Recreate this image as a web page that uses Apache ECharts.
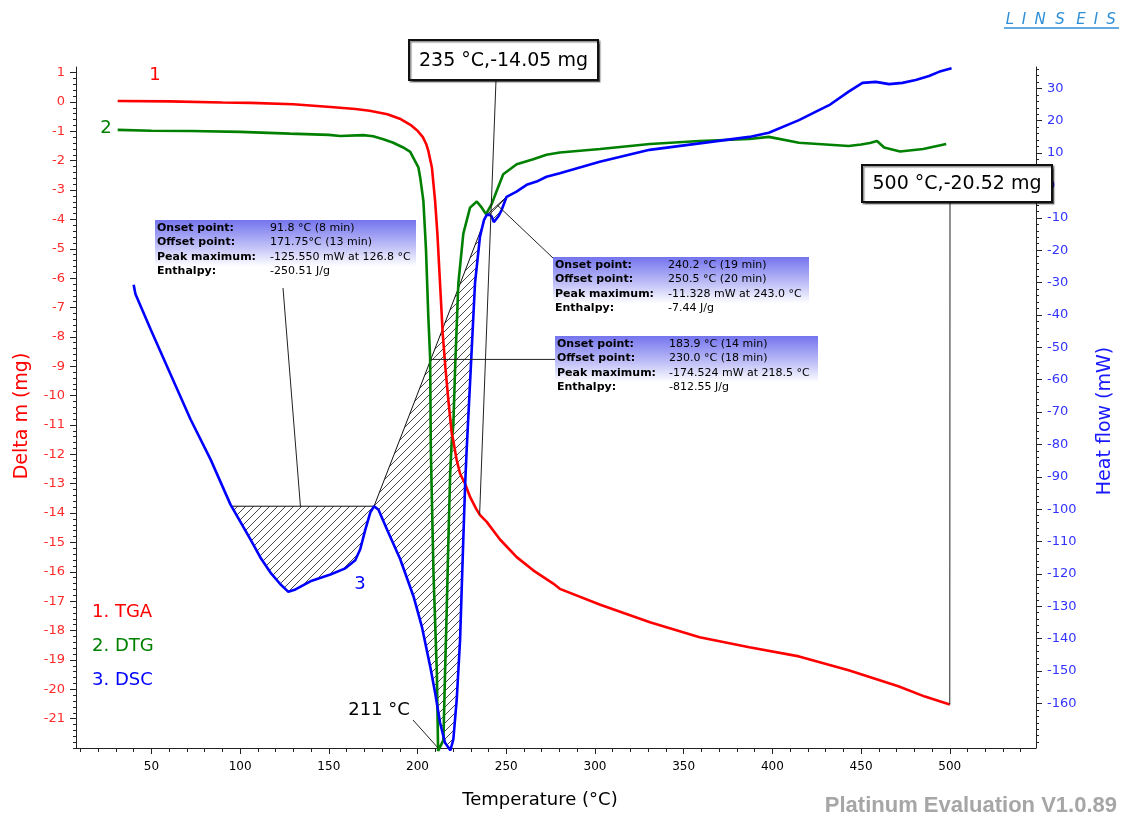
<!DOCTYPE html>
<html>
<head>
<meta charset="utf-8">
<title>TGA / DTG / DSC</title>
<script src="https://cdn.jsdelivr.net/npm/echarts@6/dist/echarts.min.js"></script>
<style>
  html, body { margin: 0; padding: 0; background: #ffffff; }
  #chart { width: 1121px; height: 816px; }
</style>
</head>
<body>
<div id="chart"></div>
<script>
// ---- axis tick labels ----
const tempTicks = [50, 100, 150, 200, 250, 300, 350, 400, 450, 500];
const massTicks = [1, 0, -1, -2, -3, -4, -5, -6, -7, -8, -9, -10, -11, -12, -13, -14, -15, -16, -17, -18, -19, -20, -21];
const heatTicks = [30, 20, 10, 0, -10, -20, -30, -40, -50, -60, -70, -80, -90, -100, -110, -120, -130, -140, -150, -160];

// ---- TGA: mass change (mg) vs temperature (°C) ----
const tgaTemp = [31, 60, 90, 106, 130, 151, 165, 173, 183, 190, 196, 200, 203, 205, 206.1, 208.1, 209.9, 211.2, 212.7, 214.2, 215.7, 217.4, 219.3, 220.2, 222.1, 224, 226.8, 229.6, 233, 235, 239, 246.5, 255.9, 265.2, 276.5, 280.2, 303, 331, 359, 387, 415, 443, 471, 486, 500];
const tgaMass = [0.03, 0.02, -0.02, -0.03, -0.08, -0.17, -0.24, -0.3, -0.42, -0.57, -0.78, -0.98, -1.2, -1.45, -1.67, -2.23, -3.37, -4.49, -6.19, -7.89, -9.04, -10.17, -11.29, -11.55, -12.2, -12.66, -13.0, -13.45, -13.85, -14.05, -14.3, -14.9, -15.5, -15.95, -16.4, -16.58, -17.12, -17.72, -18.23, -18.57, -18.88, -19.35, -19.9, -20.25, -20.52];

// ---- DTG (drawn against the mass axis) ----
const dtgTemp = [31, 50, 72, 100, 128, 150, 156.5, 169.4, 175, 180.7, 186, 191.9, 195.9, 197.5, 200.5, 201.5, 203.3, 204.3, 204.8, 206.1, 207.1, 207.5, 209, 210.9, 211.6, 212.6, 214.6, 215.5, 216.5, 217.4, 218.4, 219.3, 220.2, 221.2, 223, 225.8, 229.6, 233.4, 236.2, 238.6, 241.8, 244.6, 248.3, 255.9, 265.2, 272.7, 280.2, 303, 331, 359, 387, 398, 415, 443, 450, 455, 459, 463, 472, 485, 498];
const dtgValue = [-0.95, -0.98, -0.99, -1.02, -1.08, -1.12, -1.16, -1.13, -1.17, -1.27, -1.38, -1.55, -1.7, -1.89, -2.23, -2.57, -3.37, -4.49, -5.07, -7.34, -8.7, -11.87, -16.05, -19.45, -22.1, -22.1, -21.73, -19.47, -17.2, -14.93, -12.66, -11.53, -11.0, -9.04, -6.19, -4.49, -3.6, -3.39, -3.6, -3.82, -3.48, -3.03, -2.46, -2.12, -1.95, -1.8, -1.72, -1.6, -1.43, -1.33, -1.26, -1.19, -1.39, -1.5, -1.45, -1.4, -1.33, -1.55, -1.69, -1.6, -1.43];

// ---- DSC: heat flow (mW) vs temperature (°C) ----
const dscTemp = [40, 41, 49.6, 60.9, 72.1, 83.4, 94.6, 105.9, 111.5, 117.1, 122.7, 127.2, 131.2, 139.6, 150.9, 159.3, 164.9, 167.7, 170.5, 173.4, 175.5, 178, 182.8, 190.2, 197.7, 202.4, 207.1, 209.9, 212.7, 215.5, 218.5, 220.2, 222.1, 224, 225.8, 226.8, 227.7, 229.6, 232.4, 235.2, 237.5, 239, 240.5, 241.8, 243, 244, 245.5, 247.4, 250.2, 255.8, 261.5, 267.1, 272.7, 280.2, 302.7, 330.8, 359, 387, 398, 415, 426, 432, 443, 450.8, 458.3, 465.8, 473.3, 480.8, 488.3, 493.9, 501];
const dscHeat = [-30.7, -33.5, -44.5, -58.5, -72.3, -84.7, -98.6, -109.4, -115.0, -119.6, -123.2, -125.55, -124.8, -122.3, -120.2, -118.3, -115.8, -112.4, -106.5, -101.0, -99.1, -100.2, -106.3, -115.4, -126.9, -136.2, -148.5, -156.7, -166, -172.2, -174.52, -171.1, -158.8, -140.2, -109.4, -93, -81.6, -61, -30.2, -15.8, -10.6, -9.1, -9.0, -9.6, -11.33, -10.8, -9.6, -7.6, -3.5, -1.9, 0.2, 1.2, 2.7, 3.8, 7.3, 11, 13, 15, 16.3, 20.2, 23.2, 24.8, 29, 31.7, 32, 31.3, 31.7, 32.6, 33.8, 35.1, 36.2];

// ---- evaluated DSC peaks: temperature limits and baseline end values ----
const peakStart = [95, 175.5, 239];
const peakEnd = [175.5, 239, 250.2];
const baseStart = [-99.1, -99.1, -9.1];
const baseEnd = [-99.1, -9.1, -3.5];
const onsetText = ['91.8 °C (8 min)', '240.2 °C (19 min)', '183.9 °C (14 min)'];
const offsetText = ['171.75°C (13 min)', '250.5 °C (20 min)', '230.0 °C (18 min)'];
const peakText = ['-125.550 mW at 126.8 °C', '-11.328 mW at 243.0 °C', '-174.524 mW at 218.5 °C'];
const enthalpyText = ['-250.51 J/g', '-7.44 J/g', '-812.55 J/g'];

const X_MIN = 7.5, X_MAX = 548.6;
const M_MIN = -22, M_MAX = 1.19;
const H_MIN = -173.8, H_MAX = 36.6;

const RED = '#ff0000', GREEN = '#008000', BLUE = '#0000ff';
const FONT = '"DejaVu Sans", Verdana, sans-serif';

function zip(a, b) { return a.map((v, i) => [v, b[i]]); }
function steps(lo, hi, step) {
  const out = [];
  for (let v = lo; v <= hi + 1e-9; v += step) out.push(Math.round(v * 1000) / 1000);
  return out;
}

// diagonal hatch tile
const hatch = document.createElement('canvas');
hatch.width = 8; hatch.height = 8;
(function () {
  const c = hatch.getContext('2d');
  c.strokeStyle = '#333333';
  c.lineWidth = 0.9;
  c.beginPath();
  c.moveTo(-1, 9); c.lineTo(9, -1);
  c.moveTo(-1, 1); c.lineTo(1, -1);
  c.moveTo(7, 9); c.lineTo(9, 7);
  c.stroke();
})();

const chart = echarts.init(document.getElementById('chart'), null, { renderer: 'canvas' });

const axisLineStyle = { color: '#222', width: 1 };

function renderPeak(params, api) {
  const k = api.value(2);
  const t0 = peakStart[k], t1 = peakEnd[k];
  const pts = [api.coord([t0, baseStart[k]])];
  for (let i = 0; i < dscTemp.length; i++) {
    if (dscTemp[i] > t0 && dscTemp[i] < t1) pts.push(api.coord([dscTemp[i], dscHeat[i]]));
  }
  const last = api.coord([t1, baseEnd[k]]);
  pts.push(last);
  return {
    type: 'group',
    children: [
      { type: 'polygon', shape: { points: pts }, style: { fill: { image: hatch, repeat: 'repeat' }, stroke: null } },
      { type: 'line', shape: { x1: pts[0][0], y1: pts[0][1], x2: last[0], y2: last[1] }, style: { stroke: '#111', lineWidth: 1 } }
    ]
  };
}

const option = {
  animation: false,
  backgroundColor: '#ffffff',
  grid: { left: 76, right: 85, top: 67, bottom: 68, containLabel: false },
  xAxis: [
    {
      type: 'value', min: X_MIN, max: X_MAX, position: 'bottom',
      axisLine: { show: true, onZero: false, lineStyle: axisLineStyle },
      axisTick: { show: true, customValues: tempTicks, length: 6, lineStyle: axisLineStyle },
      axisLabel: { customValues: tempTicks, fontFamily: FONT, fontSize: 12, color: '#000', margin: 13 },
      splitLine: { show: false }
    },
    {
      type: 'value', min: X_MIN, max: X_MAX, position: 'bottom',
      axisLine: { show: false, onZero: false },
      axisTick: { show: true, customValues: steps(10, 540, 10), length: 4, lineStyle: axisLineStyle },
      axisLabel: { show: false },
      splitLine: { show: false }
    }
  ],
  yAxis: [
    {
      type: 'value', min: M_MIN, max: M_MAX, position: 'left',
      axisLine: { show: true, onZero: false, lineStyle: axisLineStyle },
      axisTick: { show: true, customValues: massTicks, length: 6, lineStyle: axisLineStyle },
      axisLabel: { customValues: massTicks, fontFamily: FONT, fontSize: 13, color: '#ff2a2a', margin: 11 },
      splitLine: { show: false }
    },
    {
      type: 'value', min: H_MIN, max: H_MAX, position: 'right',
      axisLine: { show: true, onZero: false, lineStyle: axisLineStyle },
      axisTick: { show: true, customValues: heatTicks, length: 6, lineStyle: axisLineStyle },
      axisLabel: { customValues: heatTicks, fontFamily: FONT, fontSize: 13, color: '#3333ff', margin: 11 },
      splitLine: { show: false }
    },
    {
      type: 'value', min: M_MIN, max: M_MAX, position: 'left',
      axisLine: { show: false, onZero: false },
      axisTick: { show: true, customValues: steps(-22, 1.19, 0.2), length: 3, lineStyle: axisLineStyle },
      axisLabel: { show: false }, splitLine: { show: false }
    },
    {
      type: 'value', min: H_MIN, max: H_MAX, position: 'right',
      axisLine: { show: false, onZero: false },
      axisTick: { show: true, customValues: steps(-172, 36, 2), length: 3, lineStyle: axisLineStyle },
      axisLabel: { show: false }, splitLine: { show: false }
    }
  ],
  series: [
    {
      name: 'peaks', type: 'custom', xAxisIndex: 0, yAxisIndex: 1, z: 1,
      renderItem: renderPeak, silent: true,
      data: [[100, -100, 0], [200, -100, 1], [245, -5, 2]]
    },
    {
      name: 'DTG', type: 'line', xAxisIndex: 0, yAxisIndex: 0, z: 3,
      data: zip(dtgTemp, dtgValue), showSymbol: false, clip: false,
      lineStyle: { color: GREEN, width: 2.6 }
    },
    {
      name: 'TGA', type: 'line', xAxisIndex: 0, yAxisIndex: 0, z: 4,
      data: zip(tgaTemp, tgaMass), showSymbol: false,
      lineStyle: { color: RED, width: 2.6 }
    },
    {
      name: 'DSC', type: 'line', xAxisIndex: 0, yAxisIndex: 1, z: 5,
      data: zip(dscTemp, dscHeat), showSymbol: false, clip: false,
      lineStyle: { color: BLUE, width: 2.6 }
    }
  ]
};

chart.setOption(option);

// ---- annotations: boxes, leaders and labels ----
const massPx = (t, v) => chart.convertToPixel({ xAxisIndex: 0, yAxisIndex: 0 }, [t, v]);
const heatPx = (t, v) => chart.convertToPixel({ xAxisIndex: 0, yAxisIndex: 1 }, [t, v]);

function lerpBase(k, t) {
  return baseStart[k] + (baseEnd[k] - baseStart[k]) * (t - peakStart[k]) / (peakEnd[k] - peakStart[k]);
}

const boxes = [
  { x: 155, y: 220, w: 261, h: 62 },
  { x: 553, y: 257, w: 256, h: 62 },
  { x: 555, y: 336, w: 263, h: 62 }
];
const valueCol = [270, 668, 669];
const leaderTo = [heatPx(134, lerpBase(0, 134)), heatPx(245, lerpBase(2, 245)), heatPx(207.5, lerpBase(1, 207.5))];
const leaderFrom = [[283, 288], [553, 258], [555, leaderTo[2][1]]];

const gfx = [];
function line(a, b, w) {
  gfx.push({ type: 'line', z: 20, silent: true, shape: { x1: a[0], y1: a[1], x2: b[0], y2: b[1] }, style: { stroke: '#222', lineWidth: w || 1 } });
}
function text(str, x, y, font, color, align, rot) {
  gfx.push({ type: 'text', z: 30, silent: true, x: x, y: y, rotation: rot || 0, style: { text: str, x: 0, y: 0, font: font, fill: color, align: align || 'left', verticalAlign: 'middle' } });
}

for (let k = 0; k < 3; k++) {
  line(leaderFrom[k], leaderTo[k], 1);
  const b = boxes[k];
  gfx.push({
    type: 'rect', z: 25, silent: true,
    shape: { x: b.x, y: b.y, width: b.w, height: b.h },
    style: {
      fill: { type: 'linear', x: 0, y: 0, x2: 0, y2: 1, colorStops: [
        { offset: 0, color: '#7474ee' }, { offset: 0.45, color: '#c4c4f8' }, { offset: 0.75, color: '#ffffff' }, { offset: 1, color: '#ffffff' }
      ] }
    }
  });
  const rows = ['Onset point:', 'Offset point:', 'Peak maximum:', 'Enthalpy:'];
  const vals = [onsetText[k], offsetText[k], peakText[k], enthalpyText[k]];
  for (let r = 0; r < 4; r++) {
    const yy = b.y + 8 + r * 14.5;
    text(rows[r], b.x + 2, yy, 'bold 11px ' + FONT, '#000');
    text(vals[r], valueCol[k], yy, '11px ' + FONT, '#000');
  }
}

// value call-outs on the TGA curve
const callouts = [
  { t: 235, v: -14.05, x: 409, y: 40, w: 189, h: 40, from: [496, 80] },
  { t: 500, v: -20.52, x: 862, y: 165, w: 190, h: 37, from: [950, 202] }
];
callouts.forEach(c => {
  line(c.from, massPx(c.t, c.v), 1);
  gfx.push({
    type: 'rect', z: 26, silent: true,
    shape: { x: c.x, y: c.y, width: c.w, height: c.h },
    style: { fill: '#ffffff', stroke: '#111', lineWidth: 2, shadowColor: 'rgba(0,0,0,0.45)', shadowOffsetX: 1.5, shadowOffsetY: 1.5, shadowBlur: 1 }
  });
  text(c.t + ' °C,' + c.v.toFixed(2) + ' mg', c.x + c.w / 2, c.y + c.h / 2 + 1, '19px ' + FONT, '#000', 'center');
});

// DTG minimum
line([413, 720], massPx(211.6, M_MIN), 1);
text('211 °C', 379, 710, '18px ' + FONT, '#000', 'center');

// axis titles
text('Temperature (°C)', 540, 800, '18px ' + FONT, '#000', 'center');
text('Delta m (mg)', 22, 416, '19px ' + FONT, RED, 'center', Math.PI / 2);
text('Heat flow (mW)', 1105, 421, '19px ' + FONT, '#1a1aff', 'center', Math.PI / 2);

// curve numbers and key
text('1', 155, 75, '18px ' + FONT, RED, 'center');
text('2', 106, 128, '18px ' + FONT, GREEN, 'center');
text('3', 360, 584, '18px ' + FONT, BLUE, 'center');
text('1. TGA', 92, 612, '18px ' + FONT, RED);
text('2. DTG', 92, 646, '18px ' + FONT, GREEN);
text('3. DSC', 92, 680, '18px ' + FONT, BLUE);

// footer and maker mark
text('Platinum Evaluation V1.0.89', 1117, 806, 'bold 22px "Liberation Sans", Arial, sans-serif', '#a6a6a6', 'right');
const logoLetters = ['L', 'I', 'N', 'S', 'E', 'I', 'S'];
const logoX = [1010, 1024, 1040, 1060, 1081, 1096, 1111];
logoLetters.forEach((ch, i) => text(ch, logoX[i], 20, 'italic 15px ' + FONT, '#2f8fd6', 'center'));
gfx.push({ type: 'line', z: 30, silent: true, shape: { x1: 1004, y1: 28, x2: 1119, y2: 28 }, style: { stroke: '#2f8fd6', lineWidth: 1.3 } });

chart.setOption({ graphic: { elements: gfx } });
</script>
</body>
</html>
